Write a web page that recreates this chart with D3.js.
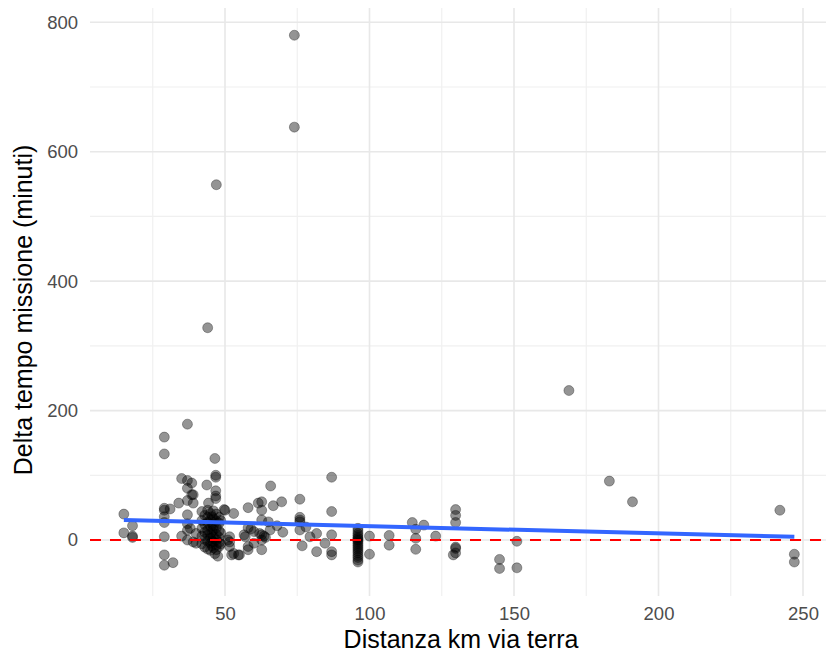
<!DOCTYPE html>
<html>
<head>
<meta charset="utf-8">
<script src="https://cdn.jsdelivr.net/npm/d3@7"></script>
<style>
  body { margin: 0; background: #fff; }
  svg text { font-family: "Liberation Sans", Arial, sans-serif; }
</style>
</head>
<body>
<svg width="826" height="658"></svg>
<script>
// distance (km) and mission time delta (minutes)
const distanceKm = [
  // far left group
  15, 18, 15, 18, 18, 29, 29, 37, 35, 37, 37, 39, 37, 34,
  29, 29, 31, 29, 29, 37, 29, 29, 29, 32, 35, 37, 38, 37, 37, 39, 40, 40, 38.5, 38.5, 39,
  // dense block around 42-49
  42, 42, 42, 42, 42,
  43, 43, 43, 43, 43,
  44, 44, 44, 44, 44, 44, 44,
  45, 45, 45, 45, 45, 45, 45,
  45.5, 45.5, 45.5, 45.5, 45.5,
  46, 46, 46, 46, 46, 46, 46,
  47, 47, 47, 47, 47, 47, 47,
  48, 48, 48, 48, 48, 48,
  48.5, 48.5, 48.5,
  // around the block
  43.7, 44, 47, 46.5, 46.8, 46.8, 46.8, 46.8, 46.8, 44.3, 46.5, 47.5,
  // 49 - 60
  49.7, 50, 53, 51.6, 51.6, 51.6, 51, 53, 55, 52.3, 54.6, 58, 58, 58, 58, 60, 60, 57, 56.6, 59,
  // 60 - 70
  61.5, 62.7, 62.7, 62.7, 65, 62.7, 63.5, 62, 64, 62.7, 62.7, 65.6, 66.7, 65.8, 69.6, 70, 68,
  // 70 - 90
  74, 74, 75.9, 75.9, 75.9, 75.9, 75.9, 76.7, 79.4, 81.7, 81.7, 84.6, 86.9, 86.9, 86.9, 86.9, 86.9, 78,
  // column at 96
  96, 96, 96, 96, 96, 96, 96, 96, 96, 96, 96, 96, 96, 96, 96, 96, 96, 96,
  100, 100,
  // 100 - 130
  106.8, 106.8, 114.8, 118.8, 116, 116, 116, 122.9, 129.8, 129.8, 129.8, 129.8, 129.8, 129, 129.8,
  // right side
  145, 145, 151, 151, 169, 183, 191, 242, 247, 247
];
const deltaMin = [
  40, 22, 11, 6, 4, 159, 133, 179, 95, 92, 80, 70, 61, 57,
  49, 46, 48, 36, 27, 39, 5, -23, -39, -35, 6, 25, 18, 15, 0, -3, 10, -5, 88, 70, 57,
  44, 30, 18, 6, -6,
  38, 24, 12, 1, -11,
  46, 35, 27, 15, 8, -2, -14,
  41, 31, 21, 10, 3, -5, -16,
  36, 25, 13, -1, -9,
  45, 33, 22, 16, 5, -3, -12,
  40, 29, 19, 9, 0, -8, -15,
  35, 26, 14, 4, -4, -10,
  30, 11, -6,
  85, 328, 549, 126, 100, 97, 76, 68, 64, 57, -21, -25,
  47, 46, 41, 5, -3, -10, 0, -21, -23, -23, -23, 50, 19, -10, -15, 13, -5, 5, 8, 17,
  57, 59, 46, 31, 28, 8, 6, 10, 4, 0, -15, 15.5, 53, 83.5, 59, 12, 22,
  780, 638, 63, 35, 31, 28, 15.5, -9, 5, 10, -18, -5, 97, 44, 8, -18, -23, 20,
  18, 14, 10, 7, 4, 2, 0, -2, -5, -8, -11, -14, -17, -20, -24, -27, -31, -34,
  6, -22,
  7, -8, 27, 23, 16.5, 2.6, -14.4, 6, 47, 38, 27, -11, -13, -23, -20,
  -30, -44, -2, -43, 231, 91, 59, 46, -22, -34
];

// linear fit (blue line) end points
const fitKm = [15, 247];
const fitMin = [31, 5];

const xTicks = [50, 100, 150, 200, 250];
const xMinor = [25, 75, 125, 175, 225];
const yTicks = [0, 200, 400, 600, 800];
const yMinor = [100, 300, 500, 700];

const points = distanceKm.map((d, i) => ({ km: d, min: deltaMin[i] }));
const fit = fitKm.map((d, i) => ({ km: d, min: fitMin[i] }));

const svg = d3.select("svg");

const x = d3.scaleLinear().domain([50, 250]).range([225, 803]);
const y = d3.scaleLinear().domain([0, 800]).range([540, 22.3]);

const panel = { left: 90, right: 826, top: 8, bottom: 596 };

const grid = svg.append("g").attr("class", "grid");

grid.selectAll(".y-minor")
  .data(yMinor)
  .join("line")
  .attr("x1", panel.left).attr("x2", panel.right)
  .attr("y1", d => y(d)).attr("y2", d => y(d))
  .attr("stroke", "#f0f0f0").attr("stroke-width", 1.2);

grid.selectAll(".x-minor")
  .data(xMinor)
  .join("line")
  .attr("x1", d => x(d)).attr("x2", d => x(d))
  .attr("y1", panel.top).attr("y2", panel.bottom)
  .attr("stroke", "#f0f0f0").attr("stroke-width", 1.2);

grid.append("g").selectAll("line")
  .data(yTicks)
  .join("line")
  .attr("x1", panel.left).attr("x2", panel.right)
  .attr("y1", d => y(d)).attr("y2", d => y(d))
  .attr("stroke", "#e8e8e8").attr("stroke-width", 1.6);

grid.append("g").selectAll("line")
  .data(xTicks)
  .join("line")
  .attr("x1", d => x(d)).attr("x2", d => x(d))
  .attr("y1", panel.top).attr("y2", panel.bottom)
  .attr("stroke", "#e8e8e8").attr("stroke-width", 1.6);

// axes: labels only
const xAxis = svg.append("g")
  .attr("transform", `translate(0,${panel.bottom + 3})`)
  .call(d3.axisBottom(x).tickValues(xTicks).tickSize(0).tickPadding(8));
const yAxis = svg.append("g")
  .attr("transform", `translate(${panel.left - 12},0)`)
  .call(d3.axisLeft(y).tickValues(yTicks).tickSize(0).tickPadding(0));

[xAxis, yAxis].forEach(a => {
  a.select(".domain").remove();
  a.selectAll("text")
    .attr("fill", "#4d4d4d")
    .style("font-size", "18.5px")
    .style("font-family", "'Liberation Sans', Arial, sans-serif");
});

// points
svg.append("g").selectAll("circle")
  .data(points)
  .join("circle")
  .attr("cx", d => x(d.km))
  .attr("cy", d => y(d.min))
  .attr("r", 5)
  .attr("fill", "#000")
  .attr("fill-opacity", 0.42)
  .attr("stroke", "#000")
  .attr("stroke-opacity", 0.3)
  .attr("stroke-width", 1);

// fitted line
const line = d3.line().x(d => x(d.km)).y(d => y(d.min));
svg.append("path")
  .datum(fit)
  .attr("d", line)
  .attr("fill", "none")
  .attr("stroke", "#3366FF")
  .attr("stroke-width", 4);

// zero reference
svg.append("line")
  .attr("x1", panel.left).attr("x2", panel.right)
  .attr("y1", y(0)).attr("y2", y(0))
  .attr("stroke", "#ff0000")
  .attr("stroke-width", 2)
  .attr("stroke-dasharray", "11,9");

// titles
svg.append("text")
  .attr("x", 461)
  .attr("y", 648)
  .attr("text-anchor", "middle")
  .style("font-size", "25px")
  .attr("fill", "#000")
  .text("Distanza km via terra");

svg.append("text")
  .attr("transform", `translate(32,310) rotate(-90)`)
  .attr("text-anchor", "middle")
  .style("font-size", "25px")
  .attr("fill", "#000")
  .text("Delta tempo missione (minuti)");
</script>
</body>
</html>
